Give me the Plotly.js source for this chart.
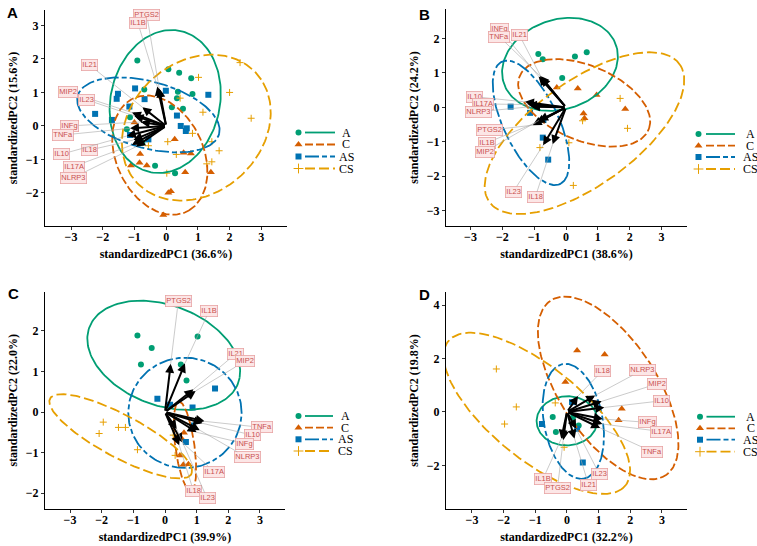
<!DOCTYPE html>
<html><head><meta charset="utf-8">
<script src="https://cdn.plot.ly/plotly-3.0.1.min.js"></script>
<style>html,body{margin:0;padding:0;background:#fff}#chart{width:757px;height:546px}</style>
</head><body><div id="chart"></div>
<script>
// ---------- group styling ----------
const groups = ['A', 'C', 'AS', 'CS'];
const groupColor = {A: '#009E73', C: '#D55E00', AS: '#0072B2', CS: '#E69F00'};
const groupSymbol = {A: 'circle', C: 'triangle-up', AS: 'square', CS: 'cross-thin'};
const groupSize = {A: 6, C: 7, AS: 6, CS: 5};
const groupDash = {A: 'solid', C: '8px,3px', AS: '14px,3px,5px,3px', CS: '10px,4px'};

// ---------- panel A: scores ----------
const pA_A_x = [-0.91, 0.07, 0.41, 0.79, -0.69, 0.37, 0.34, 0.83, 0.18, 0.53, -1.14, -1.24, -0.35, 0.28, -0.75];
const pA_A_y = [1.95, 1.69, 1.59, 1.42, 1.09, 1.02, 0.83, 0.95, 0.56, 0.51, 0.26, -0.10, -1.19, -1.41, -0.50];
const pA_C_x = [0.27, 0.55, 0.78, 0.60, 0.07, 0.15, 1.41, -0.09, -1.11, -0.82, -0.84, -0.61, -1.00];
const pA_C_y = [-0.40, -0.80, -0.82, -1.38, -1.99, -1.95, -1.38, -2.66, -1.18, -0.84, -1.10, -1.18, 0.10];
const pA_AS_x = [-2.24, -1.52, -1.56, -0.98, -0.68, -0.01, -1.16, -1.14, -0.56, 0.34, 1.33, 0.46, 0.65, 0.62, -1.71];
const pA_AS_y = [0.36, 0.96, 0.81, 1.12, 0.80, 1.05, 0.58, -0.27, -0.40, 0.31, 0.93, 0.00, -0.07, -0.15, 0.18];
const pA_CS_x = [2.33, 1.02, 2.00, 0.44, 1.16, 2.68, 0.83, 1.44, 0.05, 1.67, 0.32, 1.28, 1.44, 0.02, -0.56];
const pA_CS_y = [1.89, 1.45, 1.00, 0.83, 0.41, 0.23, -0.22, -0.47, -0.47, -0.74, -0.85, -1.13, -1.07, -1.41, -0.59];
// ellipses: [centre x, centre y, semi-major, semi-minor, angle in degrees]
const pA_ellipse = {A: [-0.03, 0.73, 2.16, 1.72, 75], C: [-0.20, -0.87, 1.89, 1.36, -61],
                    AS: [-0.56, 0.33, 2.30, 1.00, -14], CS: [0.95, -0.05, 2.50, 2.00, 35]};
// loadings and label spots
const pA_vars = ['PTGS2', 'IL1B', 'IL21', 'MIP2', 'IL23', 'INFg', 'TNFa', 'IL18', 'IL10', 'IL17A', 'NLRP3'];
const pA_load_x = [-0.22, -0.28, -0.75, -1.08, -1.00, -0.80, -1.14, -1.03, -1.24, -1.08, -0.95];
const pA_load_y = [1.12, 1.18, 0.56, 0.40, 0.30, 0.12, -0.07, -0.42, -0.30, -0.57, -0.62];
const pA_lab_x = [-0.61, -0.89, -2.42, -3.08, -2.50, -3.05, -3.26, -2.42, -3.29, -2.92, -2.92];
const pA_lab_y = [3.31, 3.07, 1.82, 1.02, 0.78, 0.00, -0.27, -0.72, -0.84, -1.21, -1.54];

// ---------- panel B ----------
const pB_A_x = [-0.87, -0.73, 0.65, 0.28, -0.12];
const pB_A_y = [1.55, 1.40, 1.60, 1.48, 0.85];
const pB_C_x = [0.37, 0.96, 1.86, 0.55, 0.58, -0.29];
const pB_C_y = [0.55, 0.36, -0.05, -0.18, -0.32, 0.58];
const pB_AS_x = [-1.74, -1.13, -0.73, -0.56, -0.71];
const pB_AS_y = [0.02, -0.16, -0.88, -1.52, -0.37];
const pB_CS_x = [1.70, 1.93, 0.52, 0.09, 0.23, -0.82];
const pB_CS_y = [0.26, -0.61, -0.39, -1.03, -2.27, -1.17];
const pB_ellipse = {A: [-0.19, 1.25, 1.85, 1.31, 15], C: [0.57, 0.13, 2.17, 1.10, -20],
                    AS: [-1.10, -0.45, 2.00, 0.85, -62], CS: [0.58, -0.75, 3.60, 1.55, 33]};
const pB_vars = ['INFg', 'TNFa', 'IL21', 'IL10', 'IL17A', 'NLRP3', 'PTGS2', 'IL1B', 'MIP2', 'IL23', 'IL18'];
const pB_load_x = [-0.86, -0.82, -0.78, -1.29, -1.20, -1.10, -1.05, -0.95, -0.85, -0.72, -0.42];
const pB_load_y = [0.90, 0.92, 0.88, 0.16, 0.08, 0.02, -0.52, -0.45, -0.38, -1.10, -1.07];
const pB_lab_x = [-2.08, -2.10, -1.47, -2.89, -2.60, -2.76, -2.39, -2.49, -2.55, -1.66, -0.97];
const pB_lab_y = [2.27, 2.06, 2.11, 0.31, 0.10, -0.13, -0.66, -1.03, -1.29, -2.46, -2.62];

// ---------- panel C ----------
const pC_A_x = [-0.87, -0.42, -0.76, 0.50, 0.68, 1.03];
const pC_A_y = [1.89, 1.58, 1.17, 1.17, 0.78, 1.86];
const pC_C_x = [0.60, 0.53, 0.47, 0.58, 0.74, 0.35];
const pC_C_y = [-0.51, -0.66, -1.07, -1.30, -1.29, -0.62];
const pC_AS_x = [-0.24, 1.58, 0.87, 0.87, 0.66, 0.16];
const pC_AS_y = [0.33, 0.58, 0.11, -0.33, -0.74, 0.18];
const pC_CS_x = [-1.95, -2.08, -1.47, -1.25, -0.87, 0.26, 0.32];
const pC_CS_y = [-0.25, -0.53, -0.38, -0.38, -0.93, -0.57, -1.07];
const pC_ellipse = {A: [-0.04, 1.40, 2.46, 1.26, -13], C: [0.63, -0.85, 1.12, 0.30, -80],
                    AS: [0.63, -0.02, 1.79, 1.36, 0], CS: [-1.40, -0.60, 2.42, 0.55, -22]};
const pC_vars = ['PTGS2', 'IL1B', 'IL21', 'MIP2', 'TNFa', 'IL10', 'INFg', 'NLRP3', 'IL17A', 'IL18', 'IL23'];
const pC_load_x = [0.18, 0.63, 0.90, 0.97, 1.25, 1.19, 1.00, 1.10, 0.55, 0.45, 0.37];
const pC_load_y = [1.19, 1.20, 0.56, 0.52, -0.23, -0.28, -0.50, -0.45, -0.75, -0.82, -0.42];
const pC_lab_x = [0.42, 1.40, 2.24, 2.52, 3.05, 2.76, 2.52, 2.59, 1.56, 0.90, 1.33];
const pC_lab_y = [2.73, 2.50, 1.44, 1.25, -0.38, -0.57, -0.78, -1.12, -1.48, -1.95, -2.13];

// ---------- panel D ----------
const pD_A_x = [-0.45, -0.35, 0.37, 0.19];
const pD_A_y = [-0.19, -0.75, -0.51, -0.20];
const pD_C_x = [0.32, 1.19, -0.05, 1.73, 1.63];
const pD_C_y = [2.30, 2.15, 1.12, 0.12, -0.31];
const pD_AS_x = [0.16, -0.79, 0.50, 0.32];
const pD_AS_y = [0.37, -0.45, -1.89, -0.63];
const pD_CS_x = [-2.23, -1.60, -1.97, -0.37, -0.09];
const pD_CS_y = [1.61, 0.19, -0.45, 0.34, -1.32];
const pD_ellipse = {A: [0.00, -0.33, 0.96, 0.92, 10], C: [1.30, 0.90, 3.75, 1.60, -63],
                    AS: [0.20, -0.35, 2.17, 0.93, -82], CS: [-0.95, -0.05, 3.90, 1.60, -46]};
const pD_vars = ['IL18', 'NLRP3', 'MIP2', 'IL10', 'INFg', 'IL17A', 'TNFa', 'IL23', 'IL21', 'IL1B', 'PTGS2'];
const pD_load_x = [0.35, 0.89, 1.10, 1.18, 1.13, 1.12, 1.05, 0.29, 0.24, -0.18, -0.12];
const pD_load_y = [0.60, 0.62, 0.40, 0.17, -0.26, -0.45, -0.60, -0.63, -1.00, -1.00, -1.06];
const pD_lab_x = [1.13, 2.40, 2.84, 3.00, 2.54, 2.97, 2.68, 1.02, 0.68, -0.76, -0.30];
const pD_lab_y = [1.55, 1.58, 1.05, 0.42, -0.39, -0.73, -1.48, -2.32, -2.72, -2.51, -2.85];

// ---------- axis titles ----------
const pc1Titles = ['standardizedPC1 (36.6%)', 'standardizedPC1 (38.6%)', 'standardizedPC1 (39.9%)', 'standardizedPC1 (32.2%)'];
const pc2Titles = ['standardizedPC2 (15.6%)', 'standardizedPC2 (24.2%)', 'standardizedPC2 (22.0%)', 'standardizedPC2 (19.8%)'];

// ---------- page geometry (pixels) ----------
const W = 757, H = 546;
const px = v => v / W;
const py = v => 1 - v / H;

const panels = [
  {tag: 'A', xa: 'x', ya: 'y', box: [45, 287, 10, 226], xr: [-3.82, 3.81], yr: [-2.985, 3.46], ydt: 1,
   scores: {A: [pA_A_x, pA_A_y], C: [pA_C_x, pA_C_y], AS: [pA_AS_x, pA_AS_y], CS: [pA_CS_x, pA_CS_y]},
   ell: pA_ellipse, vars: pA_vars, lx: pA_load_x, ly: pA_load_y, tx: pA_lab_x, ty: pA_lab_y,
   leg: {mx: 298.5, l0: 305, l1: 335, tx: 346, rows: [132.5, 144.5, 156.5, 168.5]}, tagPos: [12, 12]},
  {tag: 'B', xa: 'x2', ya: 'y2', box: [446, 687, 9, 226], xr: [-3.77, 3.80], yr: [-3.45, 2.86], ydt: 1,
   scores: {A: [pB_A_x, pB_A_y], C: [pB_C_x, pB_C_y], AS: [pB_AS_x, pB_AS_y], CS: [pB_CS_x, pB_CS_y]},
   ell: pB_ellipse, vars: pB_vars, lx: pB_load_x, ly: pB_load_y, tx: pB_lab_x, ty: pB_lab_y,
   leg: {mx: 698.5, l0: 706, l1: 735, tx: 750, rows: [134, 145.7, 157, 169]}, tagPos: [424, 14]},
  {tag: 'C', xa: 'x3', ya: 'y3', box: [45, 285, 292, 508.5], xr: [-3.79, 3.79], yr: [-2.38, 2.96], ydt: 1,
   scores: {A: [pC_A_x, pC_A_y], C: [pC_C_x, pC_C_y], AS: [pC_AS_x, pC_AS_y], CS: [pC_CS_x, pC_CS_y]},
   ell: pC_ellipse, vars: pC_vars, lx: pC_load_x, ly: pC_load_y, tx: pC_lab_x, ty: pC_lab_y,
   leg: {mx: 298.5, l0: 305, l1: 333, tx: 345, rows: [416, 427.7, 439.3, 451]}, tagPos: [13, 293]},
  {tag: 'D', xa: 'x4', ya: 'y4', box: [446, 687, 292, 509], xr: [-3.82, 3.79], yr: [-3.63, 4.49], ydt: 2,
   scores: {A: [pD_A_x, pD_A_y], C: [pD_C_x, pD_C_y], AS: [pD_AS_x, pD_AS_y], CS: [pD_CS_x, pD_CS_y]},
   ell: pD_ellipse, vars: pD_vars, lx: pD_load_x, ly: pD_load_y, tx: pD_lab_x, ty: pD_lab_y,
   leg: {mx: 700, l0: 706.5, l1: 735, tx: 750.5, rows: [416.7, 428.3, 439.7, 451.7]}, tagPos: [424, 294]}
];

function ellipsePath(p) {
  const [cx, cy, a, b, deg] = p;
  const th = deg * Math.PI / 180, xs = [], ys = [];
  for (let i = 0; i <= 180; i++) {
    const t = 2 * Math.PI * i / 180;
    xs.push(cx + a * Math.cos(t) * Math.cos(th) - b * Math.sin(t) * Math.sin(th));
    ys.push(cy + a * Math.cos(t) * Math.sin(th) + b * Math.sin(t) * Math.cos(th));
  }
  return [xs, ys];
}

const serifBold = {family: 'Liberation Serif, Times New Roman, serif', size: 12, color: '#000', weight: 'bold'};
const traces = [], annotations = [];
const layout = {
  width: W, height: H, margin: {l: 0, r: 0, t: 0, b: 0},
  paper_bgcolor: '#fff', plot_bgcolor: 'rgba(0,0,0,0)', showlegend: false,
  font: {family: 'Liberation Sans, Arial, sans-serif'}
};

panels.forEach((P, k) => {
  const n = k === 0 ? '' : String(k + 1);
  layout['xaxis' + n] = {
    domain: [px(P.box[0]), px(P.box[1])], anchor: P.ya, range: P.xr,
    showline: true, linecolor: '#000', linewidth: 1,
    ticks: 'outside', ticklen: 3, tickwidth: 1, tickcolor: '#333', dtick: 1, tick0: 0,
    ticklabelstandoff: -3,
    showgrid: false, zeroline: false, tickfont: serifBold,
    title: {text: pc1Titles[k], font: serifBold, standoff: 6}
  };
  layout['yaxis' + n] = {
    domain: [py(P.box[3]), py(P.box[2])], anchor: P.xa, range: P.yr,
    showline: true, linecolor: '#000', linewidth: 1,
    ticks: 'outside', ticklen: 3, tickwidth: 1, tickcolor: '#333', dtick: P.ydt, tick0: 0,
    showgrid: false, zeroline: false, tickfont: serifBold,
    title: {text: pc2Titles[k], font: serifBold, standoff: 5}
  };

  // sample scores
  groups.forEach(g => {
    const [xs, ys] = P.scores[g];
    traces.push({
      type: 'scatter', mode: 'markers', x: xs, y: ys, xaxis: P.xa, yaxis: P.ya, name: g,
      marker: {symbol: groupSymbol[g], size: groupSize[g], color: groupColor[g],
               line: {width: g === 'CS' ? 1 : 0, color: groupColor[g]}},
      hoverinfo: 'skip'
    });
  });
  // group ellipses
  groups.forEach(g => {
    const [ex, ey] = ellipsePath(P.ell[g]);
    traces.push({
      type: 'scatter', mode: 'lines', x: ex, y: ey, xaxis: P.xa, yaxis: P.ya, name: g,
      line: {color: groupColor[g], width: 1.8, dash: groupDash[g]}, hoverinfo: 'skip'
    });
  });
  // loading arrows
  P.vars.forEach((v, i) => {
    annotations.push({
      xref: P.xa, yref: P.ya, axref: P.xa, ayref: P.ya,
      x: P.lx[i], y: P.ly[i], ax: 0, ay: 0, text: '',
      showarrow: true, arrowhead: 2, arrowsize: 0.9, arrowwidth: 2, arrowcolor: '#000', standoff: 0
    });
  });
  // variable labels with leader segments
  P.vars.forEach((v, i) => {
    annotations.push({
      xref: P.xa, yref: P.ya, axref: P.xa, ayref: P.ya,
      x: P.lx[i], y: P.ly[i], ax: P.tx[i], ay: P.ty[i], text: v,
      showarrow: true, arrowhead: 0, arrowwidth: 0.6, arrowcolor: '#a8a8a8',
      font: {family: 'Liberation Sans, Arial, sans-serif', size: 7.5, color: '#C9504F'},
      bgcolor: '#FCE6E6', bordercolor: '#E8A4A4', borderwidth: 0.8, borderpad: 0.5
    });
  });
  // panel tag
  annotations.push({
    xref: 'paper', yref: 'paper', x: px(P.tagPos[0]), y: py(P.tagPos[1]),
    xanchor: 'center', yanchor: 'middle', showarrow: false, text: '<b>' + P.tag + '</b>',
    font: {family: 'Liberation Sans, Arial, sans-serif', size: 15, color: '#000'}
  });
  // legend keys: marker, dashed line sample, label
  groups.forEach((g, j) => {
    const yy = P.leg.rows[j];
    traces.push({
      type: 'scatter', mode: 'markers', x: [P.leg.mx], y: [yy], xaxis: 'x5', yaxis: 'y5',
      marker: {symbol: groupSymbol[g], size: g === 'CS' ? 7 : groupSize[g], color: groupColor[g],
               line: {width: g === 'CS' ? 1 : 0, color: groupColor[g]}}, hoverinfo: 'skip'
    });
    traces.push({
      type: 'scatter', mode: 'lines', x: [P.leg.l0, P.leg.l1], y: [yy, yy], xaxis: 'x5', yaxis: 'y5',
      line: {color: groupColor[g], width: 1.8, dash: groupDash[g]}, hoverinfo: 'skip'
    });
    annotations.push({
      xref: 'paper', yref: 'paper', x: px(P.leg.tx), y: py(yy), xanchor: 'center', yanchor: 'middle',
      showarrow: false, text: g,
      font: {family: 'Liberation Serif, Times New Roman, serif', size: 12, color: '#000'}
    });
  });
});

// pixel-space overlay used for the legend keys
layout.xaxis5 = {domain: [0, 1], range: [0, W], visible: false, anchor: 'y5', fixedrange: true};
layout.yaxis5 = {domain: [0, 1], range: [H, 0], visible: false, anchor: 'x5', fixedrange: true};
layout.annotations = annotations;

Plotly.newPlot('chart', traces, layout, {staticPlot: true, displayModeBar: false});
</script></body></html>
